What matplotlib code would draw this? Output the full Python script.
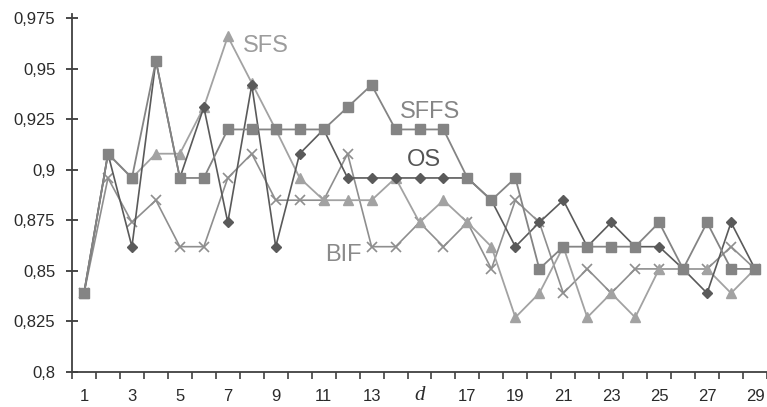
import numpy as np
import matplotlib
matplotlib.use('agg')
from matplotlib import pyplot as plt

plt.rcParams['font.family'] = ['Liberation Sans', 'DejaVu Sans']

# feature subset size d = 1..29
d = np.arange(1, 30)

sffs = [0.839, 0.908, 0.896, 0.954, 0.896, 0.896, 0.920, 0.920, 0.920, 0.920,
        0.920, 0.931, 0.942, 0.920, 0.920, 0.920, 0.896, 0.885, 0.896, 0.851,
        0.862, 0.862, 0.862, 0.862, 0.874, 0.851, 0.874, 0.851, 0.851]
os_ = [0.839, 0.908, 0.862, 0.954, 0.896, 0.931, 0.874, 0.942, 0.862, 0.908,
       0.920, 0.896, 0.896, 0.896, 0.896, 0.896, 0.896, 0.885, 0.862, 0.874,
       0.885, 0.862, 0.874, 0.862, 0.862, 0.851, 0.839, 0.874, 0.851]
sfs = [0.839, 0.908, 0.896, 0.908, 0.908, 0.931, 0.966, 0.943, 0.920, 0.896,
       0.885, 0.885, 0.885, 0.896, 0.874, 0.885, 0.874, 0.862, 0.827, 0.839,
       0.862, 0.827, 0.839, 0.827, 0.851, 0.851, 0.851, 0.839, 0.851]
bif = [0.839, 0.896, 0.874, 0.885, 0.862, 0.862, 0.896, 0.908, 0.885, 0.885,
       0.885, 0.908, 0.862, 0.862, 0.874, 0.862, 0.874, 0.851, 0.885, 0.874,
       0.839, 0.851, 0.839, 0.851, 0.851, 0.851, 0.851, 0.862, 0.851]

yticks = [0.8, 0.825, 0.85, 0.875, 0.9, 0.925, 0.95, 0.975]
ytick_labels = ['0,8', '0,825', '0,85', '0,875', '0,9', '0,925', '0,95', '0,975']

W, H = 767, 407
fig = plt.figure(figsize=(W / 100, H / 100), dpi=100)
ax = fig.add_axes([0.0939, 0.086, 0.9061, 0.879])

ax.plot(d, bif, color='#8e8e8e', lw=1.2, marker='x', ms=7, mew=1.2, zorder=2)
ax.plot(d, sfs, color='#a2a2a2', lw=1.3, marker='^', ms=7, zorder=3)
ax.plot(d, os_, color='#5a5a5a', lw=1.2, marker='D', ms=5, zorder=4)
ax.plot(d, sffs, color='#848484', lw=1.3, marker='s', ms=7, zorder=5)

# series names drawn next to their curves (pixel positions from top-left)
def name(px, py, s, c):
    fig.text(px / W, 1 - py / H, s, color=c, fontsize=17,
             ha='center', va='center')

name(266, 46, 'SFS', '#9c9c9c')
name(430, 112, 'SFFS', '#858585')
name(424, 160, 'OS', '#555555')
name(343, 255, 'BIF', '#8a8a8a')

ax.set_xlim(0.5, 29.5)
ax.set_ylim(0.8, 0.977)

ax.set_yticks(yticks)
ax.set_yticklabels(ytick_labels)
ax.tick_params(axis='y', direction='inout', length=8, width=1.2, pad=8,
               labelsize=12, colors='#2a2a2a')

# odd values labelled, ticks sit between categories
xlab = d[::2]
ax.set_xticks(xlab)
ax.set_xticklabels([str(v) if v != 15 else '' for v in xlab])
ax.set_xticks(np.arange(0.5, 30, 1), minor=True)
ax.tick_params(axis='x', which='major', length=0, pad=12, labelsize=12,
               colors='#2a2a2a')
ax.tick_params(axis='x', which='minor', direction='out', length=5, width=1.2,
               color='#404040')
ax.text(15, -0.065, 'd', transform=ax.get_xaxis_transform(), ha='center',
        va='center', fontsize=15, style='italic', family='Liberation Serif',
        color='#2a2a2a')

for side in ('top', 'right'):
    ax.spines[side].set_visible(False)
for side in ('left', 'bottom'):
    ax.spines[side].set_color('#404040')
    ax.spines[side].set_linewidth(1.3)

fig.savefig('out.png', dpi=100)
